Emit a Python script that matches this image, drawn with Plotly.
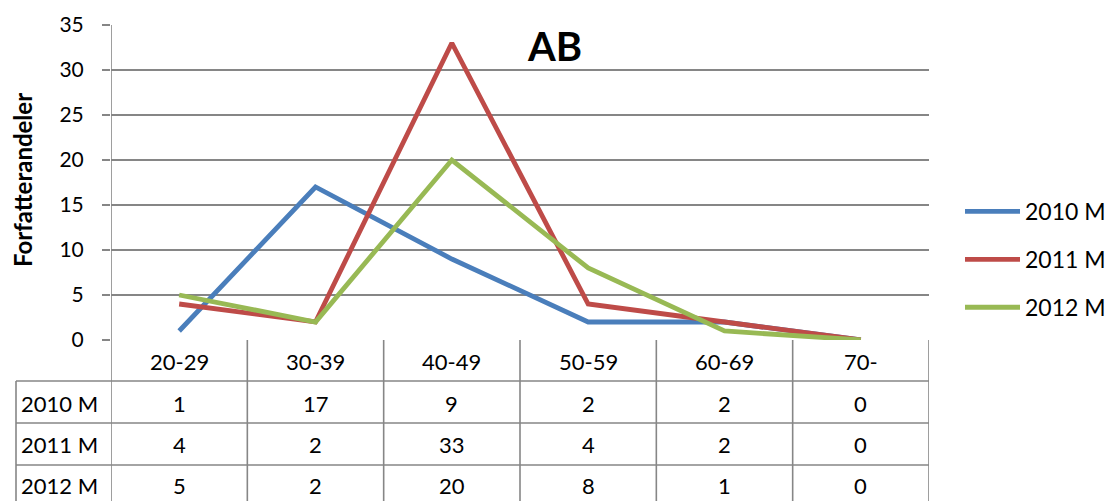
import plotly.graph_objects as go

categories = ['20-29', '30-39', '40-49', '50-59', '60-69', '70-']
series_names = ['2010 M', '2011 M', '2012 M']
s2010 = [1, 17, 9, 2, 2, 0]
s2011 = [4, 2, 33, 4, 2, 0]
s2012 = [5, 2, 20, 8, 1, 0]
series_values = [s2010, s2011, s2012]
colors = ['#4A7EBB', '#BE4B48', '#98B954']
y_ticks = [0, 5, 10, 15, 20, 25, 30, 35]

W, H = 1115, 501
L, R, T, B = 111, 929, 25, 340
pw, ph = R - L, B - T

def py(pix):
    return (B - pix) / ph

def px(pix):
    return (pix - L) / pw

FONT = 'Lato, Open Sans, sans-serif'
GRID = '#868686'
TXT = 22

fig = go.Figure()
for name, vals, col in zip(series_names, series_values, colors):
    fig.add_trace(go.Scatter(
        x=list(range(len(categories))), y=vals, name=name, mode='lines',
        line=dict(color=col, width=4.8), legendgroup=name,
    ))

shapes = []
n = len(categories)
for i in range(n + 1):
    shapes.append(dict(type='line', xref='x', yref='paper', x0=i - 0.5, x1=i - 0.5,
                       y0=1 if i == 0 else 0, y1=py(H + 2),
                       line=dict(color=GRID, width=1.6), layer='below'))
row_bounds = [381, 423, 465]
for rb in row_bounds:
    shapes.append(dict(type='line', xref='paper', yref='paper', x0=px(16), x1=1,
                       y0=py(rb), y1=py(rb), line=dict(color=GRID, width=1.6)))
shapes.append(dict(type='line', xref='paper', yref='paper', x0=px(16), x1=px(16),
                   y0=py(381), y1=py(H + 2), line=dict(color=GRID, width=1.6)))

annotations = []
for i, c in enumerate(categories):
    annotations.append(dict(x=i, xref='x', y=py(361), yref='paper', text=c, showarrow=False,
                            font=dict(size=TXT, family=FONT, color='black'),
                            xanchor='center', yanchor='middle'))
row_centers = [403, 444, 485]
for r, (name, vals) in enumerate(zip(series_names, series_values)):
    annotations.append(dict(x=px(19), xref='paper', y=py(row_centers[r]), yref='paper', text=name,
                            showarrow=False, font=dict(size=TXT, family=FONT, color='black'),
                            xanchor='left', yanchor='middle'))
    for i, v in enumerate(vals):
        annotations.append(dict(x=i, xref='x', y=py(row_centers[r]), yref='paper', text=str(v),
                                showarrow=False, font=dict(size=TXT, family=FONT, color='black'),
                                xanchor='center', yanchor='middle'))
annotations.append(dict(x=px(554), xref='paper', y=py(46), yref='paper', text='<b>AB</b>',
                        showarrow=False, font=dict(size=40, family=FONT, color='black'),
                        xanchor='center', yanchor='middle'))
annotations.append(dict(x=px(22), xref='paper', y=py(180), yref='paper', text='<b>Forfatterandeler</b>',
                        showarrow=False, textangle=-90, font=dict(size=24, family=FONT, color='black'),
                        xanchor='center', yanchor='middle'))

fig.update_layout(
    width=W, height=H,
    margin=dict(l=L, r=W - R, t=T, b=H - B, pad=0, autoexpand=False),
    paper_bgcolor='white', plot_bgcolor='white',
    showlegend=True,
    legend=dict(x=px(960), y=py(190), xanchor='left', yanchor='top',
                font=dict(size=23, family=FONT, color='black'),
                traceorder='grouped', tracegroupgap=15, itemwidth=55,
                bgcolor='rgba(0,0,0,0)'),
    xaxis=dict(range=[-0.5, n - 0.5], showgrid=False, zeroline=False, showticklabels=False,
               ticks='', showline=False, fixedrange=True),
    yaxis=dict(range=[0, 35], tickvals=y_ticks, showgrid=True, gridcolor=GRID, gridwidth=1.6,
               zeroline=False, ticks='outside', ticklen=8, tickcolor=GRID, tickwidth=1.6,
               showline=False, ticklabelstandoff=14,
               tickfont=dict(size=21, family=FONT, color='black')),
    shapes=shapes, annotations=annotations,
)

fig.write_html('out.html', config={'displayModeBar': False, 'responsive': False})

with open('out.html', encoding='utf-8') as f:
    html = f.read()
html = html.replace('<head>', '<head><style>html,body{margin:0;padding:0;overflow:hidden;}</style>', 1)
with open('out.html', 'w', encoding='utf-8') as f:
    f.write(html)
